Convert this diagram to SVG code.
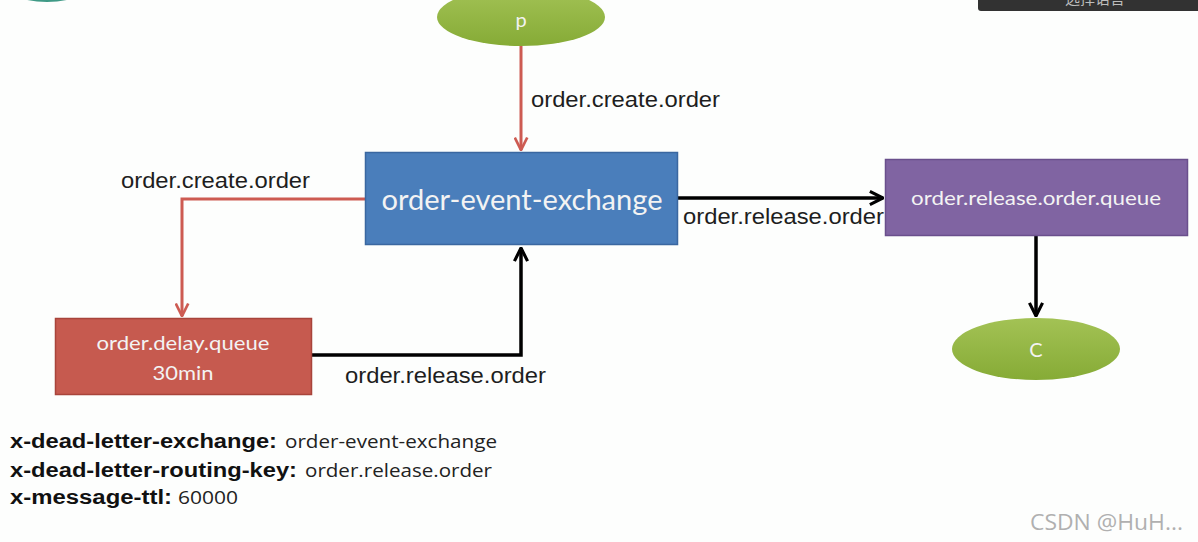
<svg xmlns="http://www.w3.org/2000/svg" width="1198" height="542" viewBox="0 0 1198 542">
<defs>
<style>
.lbl{font-family:"Liberation Sans",Arial,sans-serif;font-size:22px;fill:#1e1e1e}
.box-t{font-family:Lato,"Open Sans",sans-serif;fill:#f3f3f3;text-anchor:middle}
.red{stroke:#cd5b52;stroke-width:3;fill:none}
.blk{stroke:#000;stroke-width:3.5;fill:none}
.key{font-family:"Liberation Sans",Arial,sans-serif;font-size:20px;font-weight:bold;fill:#111}
.val{font-family:"Open Sans","Noto Sans",sans-serif;font-size:18px;fill:#222}
</style>
<linearGradient id="green" x1="0" y1="0" x2="0" y2="1">
<stop offset="0" stop-color="#a3c255"/>
<stop offset="1" stop-color="#86ab36"/>
</linearGradient>
<marker id="arrR" viewBox="0 0 12 12" refX="11" refY="6" markerWidth="5" markerHeight="5" orient="auto" markerUnits="strokeWidth">
<path d="M1,1 L11,6 L1,11" fill="none" stroke="#cd5b52" stroke-width="2.2"/>
</marker>
<marker id="arrB" viewBox="0 0 12 12" refX="11" refY="6" markerWidth="4.5" markerHeight="4.5" orient="auto" markerUnits="strokeWidth">
<path d="M1,1 L11,6 L1,11" fill="none" stroke="#000" stroke-width="2.4"/>
</marker>
</defs>
<rect width="1198" height="542" fill="#fdfefd"/>
<ellipse cx="47" cy="-28" rx="55" ry="30" fill="#3f9a86"/>
<g id="lang-bar">
<rect x="978" y="-10" width="230" height="21" rx="3" fill="#323232"/>
<text x="1095" y="4" font-family="'Noto Sans CJK SC',sans-serif" font-size="15" fill="#bdbdbd" text-anchor="middle">选择语言</text>
</g>
<g id="connectors">
<path class="red" d="M521,46 V150" marker-end="url(#arrR)"/>
<path class="red" d="M365,199 H182 V316" marker-end="url(#arrR)"/>
<path class="blk" d="M312,355 H521 V248" marker-end="url(#arrB)"/>
<path class="blk" d="M677,198 H883" marker-end="url(#arrB)"/>
<path class="blk" d="M1036,236 V316" marker-end="url(#arrB)"/>
<text class="lbl" x="531" y="107" textLength="189" lengthAdjust="spacingAndGlyphs">order.create.order</text>
<text class="lbl" x="121" y="188" textLength="189" lengthAdjust="spacingAndGlyphs">order.create.order</text>
<text class="lbl" x="345" y="383" textLength="201" lengthAdjust="spacingAndGlyphs">order.release.order</text>
<text class="lbl" x="683" y="224" textLength="201" lengthAdjust="spacingAndGlyphs">order.release.order</text>
</g>
<g id="node-p">
<ellipse cx="521" cy="17" rx="84" ry="29" fill="url(#green)"/>
<text class="box-t" x="521" y="27" font-size="20">p</text>
</g>
<g id="node-exchange">
<rect x="365.5" y="152.5" width="312" height="92" fill="#4a7ebb" stroke="#3a67a0" stroke-width="1.5"/>
<text class="box-t" x="522" y="210" font-size="28" textLength="281" lengthAdjust="spacingAndGlyphs">order-event-exchange</text>
</g>
<g id="node-delay">
<rect x="55.5" y="318.5" width="256" height="76" fill="#c65a4f" stroke="#a8443b" stroke-width="1.5"/>
<text class="box-t" x="183" y="350" font-size="20" textLength="173" lengthAdjust="spacingAndGlyphs">order.delay.queue</text>
<text class="box-t" x="183" y="380" font-size="20" textLength="61" lengthAdjust="spacingAndGlyphs">30min</text>
</g>
<g id="node-release-queue">
<rect x="885.5" y="159.5" width="302" height="76" fill="#8064a2" stroke="#6a4f8c" stroke-width="1.5"/>
<text class="box-t" x="1036" y="205" font-size="20" textLength="250" lengthAdjust="spacingAndGlyphs">order.release.order.queue</text>
</g>
<g id="node-c">
<ellipse cx="1036" cy="349" rx="84" ry="31" fill="url(#green)"/>
<text class="box-t" x="1036" y="357" font-size="20">C</text>
</g>
<g id="args">
<text class="key" x="10" y="448" textLength="267" lengthAdjust="spacingAndGlyphs">x-dead-letter-exchange:</text>
<text class="val" x="285" y="448" textLength="212" lengthAdjust="spacingAndGlyphs">order-event-exchange</text>
<text class="key" x="10" y="477" textLength="287" lengthAdjust="spacingAndGlyphs">x-dead-letter-routing-key:</text>
<text class="val" x="305" y="477" textLength="187" lengthAdjust="spacingAndGlyphs">order.release.order</text>
<text class="key" x="10" y="504" textLength="162" lengthAdjust="spacingAndGlyphs">x-message-ttl:</text>
<text class="val" x="178" y="504" textLength="60" lengthAdjust="spacingAndGlyphs">60000</text>
</g>
<text x="1030" y="530" font-family="'Open Sans','Noto Sans',sans-serif" font-size="21" fill="#b0b0b0" textLength="153" lengthAdjust="spacingAndGlyphs">CSDN @HuH...</text>
</svg>
